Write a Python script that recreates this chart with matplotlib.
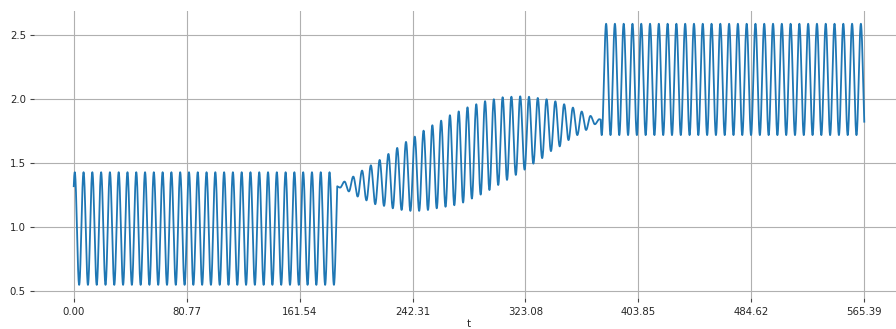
import numpy as np
import matplotlib
matplotlib.use("Agg")
import matplotlib.pyplot as plt

# Time span and the three regimes of the signal
segment_edges = [0.0, 188.46, 376.93, 565.39]
period = 6.283  # oscillation period, shared by all regimes

# Regime 1: steady oscillation
seg1_first_peak = 0.72
seg1_peak = 1.43
seg1_trough = 0.55

# Regime 2: drifting oscillation, peaks and troughs per cycle
seg2_first_peak = 187.36
seg2_peaks = [1.324, 1.357, 1.396, 1.443, 1.484, 1.526, 1.573, 1.620, 1.667,
              1.708, 1.755, 1.797, 1.833, 1.875, 1.905, 1.937, 1.961, 1.985,
              2.000, 2.016, 2.020, 2.023, 2.020, 2.010, 2.000, 1.984, 1.961,
              1.935, 1.904, 1.870, 1.844]
seg2_troughs = [1.310, 1.280, 1.240, 1.210, 1.180, 1.167, 1.148, 1.135, 1.128,
                1.128, 1.135, 1.148, 1.160, 1.172, 1.193, 1.224, 1.255, 1.291,
                1.330, 1.370, 1.409, 1.450, 1.497, 1.540, 1.595, 1.632, 1.681,
                1.720, 1.760, 1.805, 1.830]

# Regime 3: steady oscillation at a higher level
seg3_first_peak = 380.75
seg3_peak = 2.59
seg3_trough = 1.72

n_xticks = 8


def extrema_curve(t, t_first, values):
    """Smooth curve through alternating extrema spaced half a period apart."""
    half = period / 2.0
    values = np.asarray(values, dtype=float)
    pos = (t - t_first) / half
    k = np.clip(np.floor(pos).astype(int), 0, len(values) - 2)
    s = pos - k
    w = (1.0 - np.cos(np.pi * s)) / 2.0
    return values[k] + (values[k + 1] - values[k]) * w


def steady_extrema(t_start, t_end, first_peak, peak, trough):
    """Alternating trough/peak list covering [t_start, t_end]."""
    half = period / 2.0
    t_first = first_peak - half
    while t_first > t_start:
        t_first -= period
    n = int(np.ceil((t_end - t_first) / half)) + 2
    vals = [trough if i % 2 == 0 else peak for i in range(n)]
    return t_first, vals


step = 0.05
t1 = np.arange(segment_edges[0], segment_edges[1], step)
t2 = np.arange(segment_edges[1], segment_edges[2], step)
t3 = np.append(np.arange(segment_edges[2], segment_edges[3], step), segment_edges[3])

f1, v1 = steady_extrema(segment_edges[0], segment_edges[1], seg1_first_peak, seg1_peak, seg1_trough)
y1 = extrema_curve(t1, f1, v1)

seg2_vals = []
for p, q in zip(seg2_peaks, seg2_troughs):
    seg2_vals += [p, q]
y2 = extrema_curve(t2, seg2_first_peak, seg2_vals)

f3, v3 = steady_extrema(segment_edges[2], segment_edges[3], seg3_first_peak, seg3_peak, seg3_trough)
y3 = extrema_curve(t3, f3, v3)

t = np.concatenate([t1, t2, t3])
y = np.concatenate([y1, y2, y3])

fig = plt.figure(figsize=(8.96, 3.29), dpi=100)
ax = fig.add_axes([0.0382, 0.0933, 0.9705, 0.8742])
ax.plot(t, y, color="#1f77b4", lw=1.3)

ax.set_xlim(-28.27, 593.66)
ax.set_ylim(0.445, 2.692)
ax.set_xticks(np.linspace(segment_edges[0], segment_edges[-1], n_xticks))
ax.xaxis.set_major_formatter(matplotlib.ticker.FormatStrFormatter("%.2f"))
ax.set_yticks([0.5, 1.0, 1.5, 2.0, 2.5])
ax.set_xlabel("t", fontsize=7.3, color="#262626", labelpad=1.5)

ax.grid(True, color="#b0b0b0", lw=0.8)
ax.set_axisbelow(True)
for sp in ax.spines.values():
    sp.set_visible(False)
ax.tick_params(axis="both", labelsize=7.3, length=3, width=0.8,
               color="#444444", labelcolor="#262626", pad=3)

fig.savefig("out.png", dpi=100)
